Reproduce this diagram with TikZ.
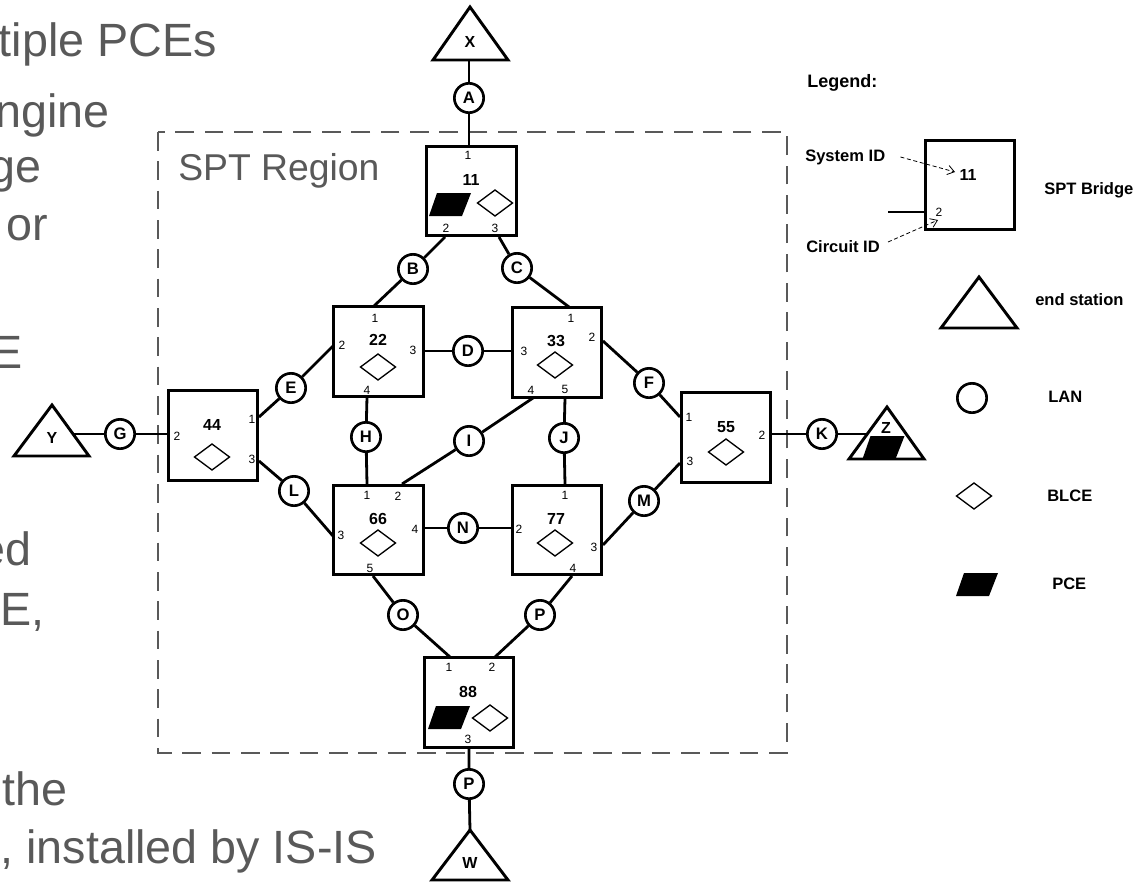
\documentclass[tikz,border=0pt]{standalone}
\usepackage{fontspec}
\setmainfont{Liberation Sans}
\usetikzlibrary{arrows.meta}
\definecolor{slidegray}{RGB}{89,89,89}
\begin{document}
\begin{tikzpicture}[x=0.75pt,y=-0.75pt,
  bridge/.style={draw, line width=2.3pt, minimum size=67pt, inner sep=0pt},
  lan/.style={draw, circle, line width=2pt, minimum size=22pt, inner sep=0pt, fill=white, font=\fontsize{12.5}{12.5}\selectfont\bfseries},
  conn/.style={line width=2.1pt},
  port/.style={font=\fontsize{9}{9}\selectfont, inner sep=0pt},
  blabel/.style={font=\fontsize{12}{12}\selectfont\bfseries, inner sep=0pt},
  station/.style={draw, line width=2.2pt, line join=miter, fill=white},
  slide/.style={font=\fontsize{35}{42}\selectfont, text=slidegray, anchor=base east, inner sep=0pt},
  legtext/.style={font=\fontsize{12.4}{13}\selectfont\bfseries, anchor=west, inner sep=0pt},
  idarrow/.style={densely dashed, line width=0.6pt, -{Straight Barb[length=5pt,width=7pt]}},
  blce/.pic={\draw[line width=1pt, fill=white] (-17.5,0) -- (0,-13) -- (17.5,0) -- (0,13) -- cycle;},
  pce/.pic={\fill (-13,-11.5) -- (21,-11.5) -- (12,11.5) -- (-21,11.5) -- cycle;}
]
\useasboundingbox (0,0) rectangle (1134,881);

% slide text (cropped)
\node[slide] (s1) at (217,57) {tiple PCEs};
\node[slide] (s2) at (110,127) {ngine};
\node[slide] (s3) at (42,182) {ge};
\node[slide] (s4) at (48,240) {or};
\node[slide] (s5) at (23,368) {E};
\node[slide] (s6) at (32,565) {ed};
\node[slide] (s7) at (45,625) {E,};
\node[slide] (s8) at (68,805) {the};
\node[slide] (s9) at (377,863) {, installed by IS-IS};

% SPT region
\draw[slidegray, line width=2pt, dash pattern=on 14pt off 8pt] (158,132) rectangle (787,753);
\node[font=\fontsize{28}{30}\selectfont, text=slidegray, anchor=base west, inner sep=0pt] (reg) at (178,180) {SPT Region};

% end stations
\draw[station] (433,60) -- (470,7) -- (508,60) -- cycle;
\node[blabel] (Xl) at (470,42) {X};
\coordinate (Xb) at (469,60);
\draw[station] (14,456) -- (52,405) -- (89,456) -- cycle;
\node[blabel] (Yl) at (52,438) {Y};
\coordinate (Yr) at (73,434);
\draw[station] (849,459) -- (887,407) -- (924,459) -- cycle;
\pic at (883.5,447.5) {pce};
\node[blabel] (Zl) at (886,428) {Z};
\coordinate (Zl2) at (867,434);
\draw[station] (432,880) -- (470,830) -- (508,880) -- cycle;
\node[blabel] (Wl) at (470,863) {W};
\coordinate (Wt) at (470,830);

% bridges
\node[bridge] (b11) at (471.5,191) {};
\node[bridge] (b22) at (378.5,351.5) {};
\node[bridge] (b33) at (557,352.5) {};
\node[bridge] (b44) at (213,435.5) {};
\node[bridge] (b55) at (726,437.5) {};
\node[bridge] (b66) at (378.5,530) {};
\node[bridge] (b77) at (557,530) {};
\node[bridge] (b88) at (469,702.5) {};

% port coordinates
\coordinate (b11p1) at (469,145); \coordinate (b11p2) at (445,237); \coordinate (b11p3) at (499,237);
\coordinate (b22p1) at (374,306); \coordinate (b22p2) at (333,346); \coordinate (b22p3) at (424,351); \coordinate (b22p4) at (367,397);
\coordinate (b33p1) at (569,307); \coordinate (b33p2) at (603,341); \coordinate (b33p3) at (511,351); \coordinate (b33p4) at (533,398); \coordinate (b33p5) at (565,398);
\coordinate (b44p1) at (259,417); \coordinate (b44p2) at (167,434); \coordinate (b44p3) at (259,461);
\coordinate (b55p1) at (680,417); \coordinate (b55p2) at (772,434); \coordinate (b55p3) at (680,463);
\coordinate (b66p1) at (367,484); \coordinate (b66p2) at (402,484); \coordinate (b66p3) at (333,536); \coordinate (b66p4) at (424,528); \coordinate (b66p5) at (373,576);
\coordinate (b77p1) at (565,484); \coordinate (b77p2) at (511,528); \coordinate (b77p3) at (603,545); \coordinate (b77p4) at (572,576);
\coordinate (b88p1) at (450,657); \coordinate (b88p2) at (495,657); \coordinate (b88p3) at (469,748);

% LANs
\node[lan] (A) at (469,98) {A};
\node[lan] (B) at (413,269) {B};
\node[lan] (C) at (517,268) {C};
\node[lan] (D) at (468,351) {D};
\node[lan] (E) at (291,388) {E};
\node[lan] (F) at (649,383) {F};
\node[lan] (G) at (120,434) {G};
\node[lan] (H) at (366,437) {H};
\node[lan] (I) at (469,441) {I};
\node[lan] (J) at (564,438) {J};
\node[lan] (K) at (822,434) {K};
\node[lan] (L) at (294,491) {L};
\node[lan] (M) at (644,501) {M};
\node[lan] (N) at (463,528) {N};
\node[lan] (O) at (403,615) {O};
\node[lan] (P) at (540,615) {P};
\node[lan] (P2) at (469,784) {P};

% connectors
\draw[conn] (Xb) -- (A) -- (b11p1);
\draw[conn] (b11p2) -- (B) -- (b22p1);
\draw[conn] (b11p3) -- (C) -- (b33p1);
\draw[conn] (b22p3) -- (D) -- (b33p3);
\draw[conn] (b44p1) -- (E) -- (b22p2);
\draw[conn] (b33p2) -- (F) -- (b55p1);
\draw[conn] (Yr) -- (G) -- (b44p2);
\draw[conn] (b22p4) -- (H) -- (b66p1);
\draw[conn] (b33p4) -- (I) -- (b66p2);
\draw[conn] (b33p5) -- (J) -- (b77p1);
\draw[conn] (b55p2) -- (K) -- (Zl2);
\draw[conn] (b44p3) -- (L) -- (b66p3);
\draw[conn] (b77p3) -- (M) -- (b55p3);
\draw[conn] (b66p4) -- (N) -- (b77p2);
\draw[conn] (b66p5) -- (O) -- (b88p1);
\draw[conn] (b77p4) -- (P) -- (b88p2);
\draw[conn] (b88p3) -- (P2) -- (Wt);

% bridge contents
\node[blabel] (l11) at (471,180) {11};
\node[port] (n11a) at (468,155) {1};
\node[port] (n11b) at (446,228) {2};
\node[port] (n11c) at (495,228) {3};
\pic at (450,204.5) {pce};
\pic at (495,203) {blce};

\node[blabel] (l22) at (378,340) {22};
\node[port] (n22a) at (375,318) {1};
\node[port] (n22b) at (342,345) {2};
\node[port] (n22c) at (413,350) {3};
\node[port] (n22d) at (367,390) {4};
\pic at (378,367) {blce};

\node[blabel] (l33) at (556,341) {33};
\node[port] (n33a) at (571,318) {1};
\node[port] (n33b) at (592,337) {2};
\node[port] (n33c) at (524,351) {3};
\node[port] (n33d) at (531,390) {4};
\node[port] (n33e) at (565,389) {5};
\pic at (555,365) {blce};

\node[blabel] (l44) at (212,425) {44};
\node[port] (n44a) at (252,419) {1};
\node[port] (n44b) at (177,436) {2};
\node[port] (n44c) at (252,459) {3};
\pic at (212,457) {blce};

\node[blabel] (l55) at (726,427) {55};
\node[port] (n55a) at (689,417) {1};
\node[port] (n55b) at (762,435) {2};
\node[port] (n55c) at (690,461) {3};
\pic at (726,452) {blce};

\node[blabel] (l66) at (378,519) {66};
\node[port] (n66a) at (367,495) {1};
\node[port] (n66b) at (398,496) {2};
\node[port] (n66c) at (341,535) {3};
\node[port] (n66d) at (415,529) {4};
\node[port] (n66e) at (370,568) {5};
\pic at (378,543) {blce};

\node[blabel] (l77) at (556,519) {77};
\node[port] (n77a) at (565,495) {1};
\node[port] (n77b) at (519,529) {2};
\node[port] (n77c) at (594,547) {3};
\node[port] (n77d) at (573,568) {4};
\pic at (555,543) {blce};

\node[blabel] (l88) at (468,692) {88};
\node[port] (n88a) at (449,667) {1};
\node[port] (n88b) at (492,667) {2};
\node[port] (n88c) at (468,739) {3};
\pic at (449,717.5) {pce};
\pic at (490,718) {blce};

% legend
\node[legtext, font=\fontsize{13.5}{14}\selectfont\bfseries] (leg) at (807,83) {Legend:};
\node[bridge] (lb) at (970,185) {};
\node[blabel] (lb11) at (968,175) {11};
\node[port] (lb2) at (939,212) {2};
\coordinate (lbst) at (888,212);
\coordinate (lbp) at (924,212);
\draw[conn] (lbst) -- (lbp);
\node[legtext] (sysid) at (805,157) {System ID};
\node[legtext] (cirid) at (806,247) {Circuit ID};
\coordinate (sysA) at (955,172);
\coordinate (cirA) at (938,220);
\draw[idarrow] (sysid.east) ++(15,0) coordinate (sys0) -- (sysA);
\draw[idarrow] (cirid.east) ++(8,-5) coordinate (cir0) -- (cirA);
\node[legtext] (tb) at (1044,190) {SPT Bridge};
\draw[station] (941,328) -- (979,277) -- (1017,328) -- cycle;
\node[legtext] (tes) at (1035,300) {end station};
\node[lan] (legL) at (972,398) {};
\node[legtext] (tlan) at (1048,397) {LAN};
\pic at (974,496) {blce};
\node[legtext] (tblce) at (1047,496) {BLCE};
\pic at (977,584.5) {pce};
\node[legtext] (tpce) at (1052,584) {PCE};
\end{tikzpicture}
\end{document}
